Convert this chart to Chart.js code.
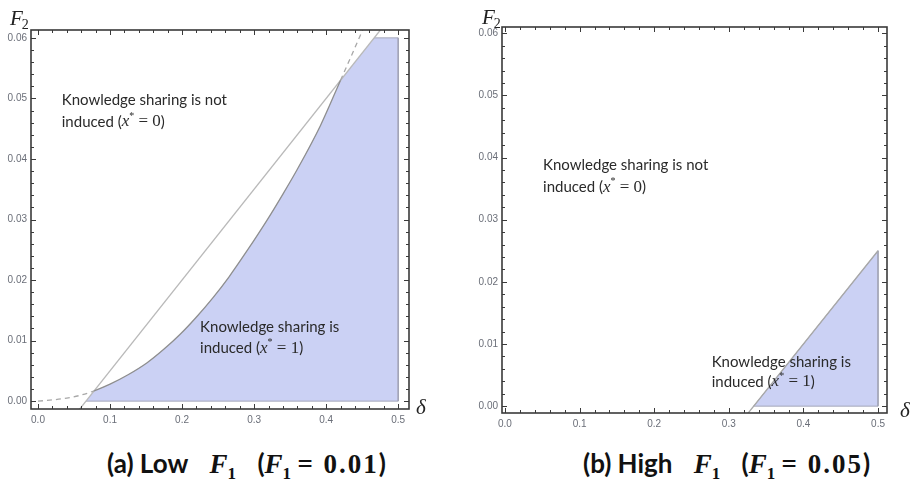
<!DOCTYPE html>
<html><head><meta charset="utf-8">
<script src="https://cdn.jsdelivr.net/npm/chart.js@4.4.1/dist/chart.umd.min.js"></script>
<style>
html,body{margin:0;padding:0;background:#fff;width:915px;height:479px;overflow:hidden;}
#wa{position:absolute;left:0;top:0;width:457px;height:430px;}
#wb{position:absolute;left:457px;top:0;width:458px;height:430px;}
.cap{position:absolute;top:447px;font:bold 26px Lato, sans-serif;color:#111;white-space:nowrap;line-height:32px;}
.cap i{font-family:'Liberation Serif',serif;font-style:italic;font-weight:bold;font-size:27px;}
.cap sub{font-family:'Liberation Serif',serif;font-weight:bold;font-size:17px;vertical-align:-6px;line-height:0;}
.cap .m{font-family:'Liberation Serif',serif;font-weight:bold;font-size:27px;letter-spacing:2px;}
.cap .g{display:inline-block;width:15px;}
</style></head><body>
<div id="wa"><canvas id="ca" width="457" height="430"></canvas></div>
<div id="wb"><canvas id="cb" width="458" height="430"></canvas></div>
<div class="cap" style="left:107px">(a) Low<span class="g"></span> <i>F</i><sub>1</sub><span class="g"></span> (<i>F</i><sub>1</sub> <span class="m">= 0.01</span>)</div>
<div class="cap" style="left:583px">(b) High<span class="g"></span> <i>F</i><sub>1</sub><span class="g"></span> (<i>F</i><sub>1</sub> <span class="m">= 0.05</span>)</div>
<script>
// ---- tick labels ----
const xTickValues = [0, 0.1, 0.2, 0.3, 0.4, 0.5];
const xTickLabels = ['0.0', '0.1', '0.2', '0.3', '0.4', '0.5'];
const yTickValues = [0, 0.01, 0.02, 0.03, 0.04, 0.05, 0.06];
const yTickLabels = ['0.00', '0.01', '0.02', '0.03', '0.04', '0.05', '0.06'];
const xMinorStep = 0.02;
const yMinorStep = 0.002;

// ---- panel (a): F1 = 0.01 ----
const aCurveDelta = [0, 0.02, 0.04, 0.06, 0.078, 0.10, 0.125, 0.151, 0.175, 0.197, 0.22, 0.243, 0.265, 0.29, 0.318, 0.34, 0.36, 0.392, 0.42, 0.436, 0.451];
const aCurveF2    = [0, 0.0002, 0.0005, 0.0010, 0.0017, 0.0028, 0.00435, 0.0063, 0.0086, 0.0110, 0.0139, 0.0171, 0.0205, 0.0248, 0.0299, 0.0342, 0.0383, 0.0455, 0.0530, 0.0573, 0.0614];
const aSolidRange = [0.078, 0.42];
const aLineDelta  = [0.0553, 0.4753];
const aLineF2     = [-0.0017, 0.0613];
const aRegionDelta = [0.0667, 0.078, 0.10, 0.125, 0.151, 0.175, 0.197, 0.22, 0.243, 0.265, 0.29, 0.318, 0.34, 0.36, 0.392, 0.42, 0.4667, 0.5, 0.5];
const aRegionF2    = [0, 0.0017, 0.0028, 0.00435, 0.0063, 0.0086, 0.0110, 0.0139, 0.0171, 0.0205, 0.0248, 0.0299, 0.0342, 0.0383, 0.0455, 0.0530, 0.06, 0.06, 0];

// ---- panel (b): F1 = 0.05 ----
const bLineDelta   = [0.3220, 0.5];
const bLineF2      = [-0.0017, 0.025];
const bRegionDelta = [0.3333, 0.5, 0.5];
const bRegionF2    = [0, 0.025, 0];

const pts = (xs, ys) => xs.map((v, i) => ({x: v, y: ys[i]}));
// bottom edge of a region: from its first to its last vertex
const baseEdge = (xs, ys) => [{x: xs[0], y: ys[0]}, {x: xs[xs.length - 1], y: ys[ys.length - 1]}];
// top cap and right edge of a region: its last three vertices
const capEdge = (xs, ys) => pts(xs.slice(-3), ys.slice(-3));

const REGION_FILL = 'rgb(203,209,244)';
const REGION_EDGE = 'rgba(160,162,180,0.9)';

const FONTS = {
  t: '15px Lato, sans-serif',
  mi: 'italic 17px "Liberation Serif", serif',
  sup: '10px "Liberation Serif", serif',
  m: '17px "Liberation Serif", serif'
};
const notLines = (x, y1, y2) => [
  {x: x, y: y1, parts: [['Knowledge sharing is not', 't']]},
  {x: x, y: y2, parts: [['induced (', 't'], ['x', 'mi'], ['*', 'sup'], [' = 0', 'm'], [')', 't']]}
];
const isLines = (x, y1, y2) => [
  {x: x, y: y1, parts: [['Knowledge sharing is', 't']]},
  {x: x, y: y2, parts: [['induced (', 't'], ['x', 'mi'], ['*', 'sup'], [' = 1', 'm'], [')', 't']]}
];

const framePlugin = {
  id: 'frame',
  afterDraw(chart, args, o) {
    const {ctx, chartArea: a} = chart;
    const x = chart.scales.x, y = chart.scales.y;
    ctx.save();
    ctx.strokeStyle = '#3a3a3a';
    ctx.lineWidth = 1;
    ctx.beginPath();
    const xt = (v, len) => {
      const px = Math.round(x.getPixelForValue(v)) + 0.5;
      ctx.moveTo(px, a.bottom); ctx.lineTo(px, a.bottom - len);
      ctx.moveTo(px, a.top); ctx.lineTo(px, a.top + len);
    };
    const yt = (v, len) => {
      const py = Math.round(y.getPixelForValue(v)) + 0.5;
      ctx.moveTo(a.left, py); ctx.lineTo(a.left + len, py);
      ctx.moveTo(a.right, py); ctx.lineTo(a.right - len, py);
    };
    for (let k = 0; k * xMinorStep <= x.max + 1e-9; k++) xt(k * xMinorStep, k % 5 === 0 ? 5 : 3);
    for (let k = 0; k * yMinorStep <= y.max + 1e-9; k++) yt(k * yMinorStep, k % 5 === 0 ? 5 : 3);
    ctx.stroke();
    ctx.lineWidth = 1.6;
    ctx.strokeRect(a.left, a.top, a.right - a.left, a.bottom - a.top);

    // annotations
    ctx.fillStyle = '#2a2a2a';
    ctx.textBaseline = 'middle';
    (o.notes || []).forEach(n => {
      let px = x.getPixelForValue(n.x);
      const py = y.getPixelForValue(n.y);
      n.parts.forEach(([t, f]) => {
        ctx.font = FONTS[f];
        ctx.fillText(t, px, f === 'sup' ? py - 6 : py);
        px += ctx.measureText(t).width;
      });
    });
    // axis titles
    ctx.fillStyle = '#222';
    ctx.textBaseline = 'alphabetic';
    ctx.font = 'italic 21px "Liberation Serif", serif';
    const fx = a.left + o.fOff[0], fy = a.top + o.fOff[1];
    ctx.fillText('F', fx, fy);
    const fw = ctx.measureText('F').width;
    ctx.font = '14px "Liberation Serif", serif';
    ctx.fillText('2', fx + fw - 1, fy + 4);
    ctx.font = 'italic 21px "Liberation Serif", serif';
    ctx.textBaseline = 'middle';
    ctx.fillText('\u03B4', a.right + o.dOff[0], a.bottom + o.dOff[1]);
    ctx.restore();
  }
};

function makeChart(id, c) {
  return new Chart(document.getElementById(id), {
    type: 'line',
    data: {datasets: c.datasets},
    options: {
      responsive: false,
      animation: false,
      devicePixelRatio: 1,
      layout: {padding: c.padding},
      plugins: {legend: {display: false}, tooltip: {enabled: false}, frame: c.frame},
      scales: {
        x: {
          type: 'linear', min: c.xRange[0], max: c.xRange[1],
          afterBuildTicks: s => { s.ticks = xTickValues.map(v => ({value: v})); },
          afterFit: s => { s.height = c.xAxisH; },
          ticks: {callback: (v, i) => xTickLabels[i], autoSkip: false, maxRotation: 0, padding: 5,
                  color: '#6a6e78', font: {size: 10, family: 'Liberation Sans'}},
          grid: {display: false, drawTicks: false}, border: {display: false}
        },
        y: {
          type: 'linear', min: c.yRange[0], max: c.yRange[1],
          afterBuildTicks: s => { s.ticks = yTickValues.map(v => ({value: v})); },
          afterFit: s => { s.width = c.yAxisW; },
          ticks: {callback: (v, i) => yTickLabels[i], autoSkip: false, padding: 4,
                  color: '#6a6e78', font: {size: 10, family: 'Liberation Sans'}},
          grid: {display: false, drawTicks: false}, border: {display: false}
        }
      }
    },
    plugins: [framePlugin]
  });
}

const lineStyle = {pointRadius: 0, pointHoverRadius: 0, fill: false, tension: 0};
const solidPart = s => s.p0.parsed.x >= aSolidRange[0] - 1e-9 && s.p1.parsed.x <= aSolidRange[1] + 1e-9;

makeChart('ca', {
  padding: {left: 0, right: 48, top: 30, bottom: 3},
  xAxisH: 18, yAxisW: 31,
  xRange: [-0.0097, 0.515], yRange: [-0.0013, 0.0613],
  frame: {notes: notLines(0.033, 0.0497, 0.0461).concat(isLines(0.225, 0.0122, 0.0087)), fOff: [-21, -5], dOff: [7, -1]},
  datasets: [
    Object.assign({}, lineStyle, {data: pts(aCurveDelta, aCurveF2), borderColor: '#9a9a9a', borderWidth: 1.3, order: 1,
      cubicInterpolationMode: 'monotone',
      segment: {
        borderDash: s => solidPart(s) ? [] : [5, 4],
        borderColor: s => solidPart(s) ? '#8e8e8e' : '#a8a8a8'
      }}),
    Object.assign({}, lineStyle, {data: pts(aLineDelta, aLineF2), borderColor: '#b9b9b9', borderWidth: 1.3, order: 2}),
    Object.assign({}, lineStyle, {data: baseEdge(aRegionDelta, aRegionF2), borderColor: REGION_EDGE, borderWidth: 1, order: 3}),
    Object.assign({}, lineStyle, {data: capEdge(aRegionDelta, aRegionF2), borderColor: REGION_EDGE, borderWidth: 1, order: 3}),
    Object.assign({}, lineStyle, {data: pts(aRegionDelta, aRegionF2), borderWidth: 0, borderColor: 'rgba(0,0,0,0)', order: 4,
      fill: 'origin', backgroundColor: REGION_FILL})
  ]
});

makeChart('cb', {
  padding: {left: 0, right: 28, top: 27, bottom: 0},
  xAxisH: 17, yAxisW: 45,
  xRange: [-0.004, 0.512], yRange: [-0.0011, 0.061],
  frame: {notes: notLines(0.051, 0.0388, 0.0352).concat(isLines(0.277, 0.0071, 0.0039)), fOff: [-20, -3], dOff: [13, -2]},
  datasets: [
    Object.assign({}, lineStyle, {data: pts(bLineDelta, bLineF2), borderColor: '#a8a8a8', borderWidth: 1.3, order: 1}),
    Object.assign({}, lineStyle, {data: baseEdge(bRegionDelta, bRegionF2), borderColor: REGION_EDGE, borderWidth: 1, order: 3}),
    Object.assign({}, lineStyle, {data: pts(bRegionDelta, bRegionF2), borderColor: REGION_EDGE, borderWidth: 1, order: 4,
      fill: 'origin', backgroundColor: REGION_FILL})
  ]
});
</script>
</body></html>
